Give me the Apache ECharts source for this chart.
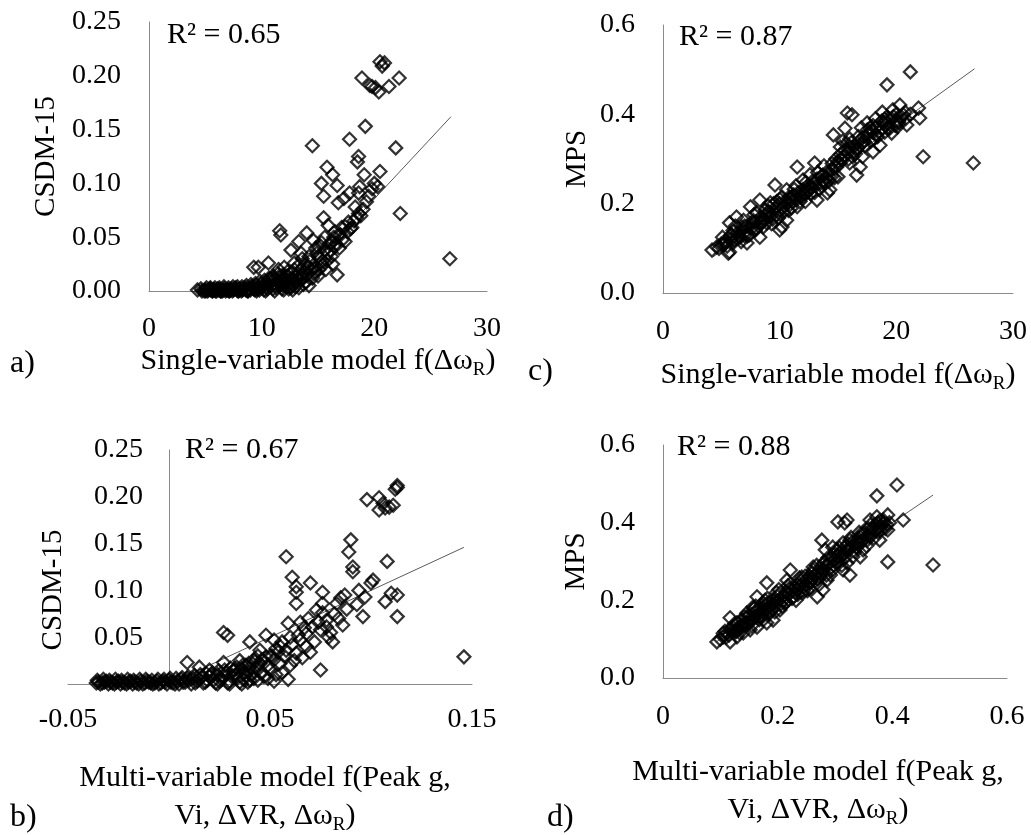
<!DOCTYPE html>
<html>
<head>
<meta charset="utf-8">
<script src="https://cdn.jsdelivr.net/npm/echarts@6/dist/echarts.min.js"></script>
<style>
  html, body { margin: 0; padding: 0; background: #fff; }
  #chart { width: 1031px; height: 835px; }
</style>
</head>
<body>
<div id="chart"></div>
<script>
// ---- data: [model prediction, measured value] ----
const singleCsdm = [
  [4.3,0.001],[4.7,0.000],[4.9,0.000],[5.0,0.001],[5.2,0.000],[5.3,0.001],[5.4,0.002],[5.5,0.001],[5.6,0.000],[5.7,0.001],
  [5.8,0.001],[5.9,0.000],[6.0,0.000],[6.1,0.002],[6.2,0.001],[6.3,0.001],[6.4,0.000],[6.5,0.000],[6.6,0.001],[6.7,0.002],
  [6.8,0.000],[6.9,0.001],[7.0,0.001],[7.1,0.000],[7.2,0.001],[7.3,0.002],[7.4,0.000],[7.5,0.001],[7.6,0.002],[7.7,0.003],
  [7.8,0.001],[7.9,0.000],[8.0,0.001],[8.1,0.002],[8.2,0.000],[8.3,0.001],[8.4,0.002],[8.5,0.003],[8.6,0.001],[8.7,0.001],
  [8.8,0.000],[8.9,0.002],[9.0,0.001],[9.1,0.004],[9.2,0.003],[9.3,0.002],[9.4,0.001],[9.5,0.005],[9.6,0.002],[9.7,0.003],
  [9.8,0.001],[9.9,0.006],[10.0,0.003],[10.1,0.004],[10.2,0.001],[10.3,0.007],[10.4,0.004],[10.5,0.002],[10.6,0.006],[10.7,0.009],
  [10.8,0.012],[10.9,0.005],[11.0,0.002],[11.1,0.011],[11.2,0.006],[11.3,0.003],[11.4,0.008],[11.5,0.013],[11.6,0.009],[11.7,0.006],
  [11.8,0.002],[11.9,0.015],[11.9,0.005],[12.0,0.012],[12.1,0.008],[12.2,0.010],[12.2,0.004],[12.3,0.018],[12.4,0.002],[12.5,0.004],
  [12.6,0.003],[12.7,0.012],[12.8,0.010],[12.8,0.006],[12.9,0.020],[13.0,0.004],[13.1,0.009],[13.2,0.015],[13.3,0.024],[13.4,0.010],
  [13.5,0.014],[13.6,0.012],[13.7,0.006],[13.8,0.018],[13.9,0.025],[14.0,0.015],[14.1,0.022],[14.3,0.028],[14.5,0.012],[14.7,0.022],
  [14.8,0.018],[14.9,0.035],[15.1,0.020],[15.2,0.030],[15.4,0.024],[15.6,0.038],[15.8,0.028],[16.0,0.044],[16.1,0.038],[16.4,0.050],
  [16.6,0.044],[16.8,0.052],[16.9,0.040],[17.0,0.052],[17.2,0.048],[17.4,0.060],[17.6,0.055],[17.9,0.058],[18.2,0.065],[18.4,0.068],
  [18.8,0.070],[19.0,0.076],[19.3,0.083],[19.5,0.088],[19.8,0.095],
  [4.6,0.002],[5.1,0.003],[5.45,0.003],[5.85,0.003],[6.25,0.003],[6.65,0.004],[7.05,0.003],[7.45,0.004],[7.85,0.004],[8.25,0.004],
  [8.65,0.005],[9.05,0.006],[9.45,0.007],[9.85,0.009],[10.25,0.010],[10.65,0.012],[11.05,0.014],[11.45,0.016],[11.85,0.010],[12.25,0.014],
  [12.65,0.017],[13.05,0.013],[5.05,0.000],[5.65,0.000],[6.35,0.000],[7.15,0.000],[7.95,0.000],[8.75,0.000],[9.55,0.000],[10.35,0.000],
  [11.15,0.000],[11.95,0.001],[12.75,0.001],[13.3,0.003],[13.9,0.008],[14.6,0.016],[15.0,0.014],[15.7,0.020],[16.3,0.025],[13.6,0.030],
  [14.8,0.040],[15.3,0.045],
  [9.3,0.022],[9.7,0.022],[10.6,0.026],[11.5,0.020],[12.0,0.022],[12.9,0.026],[13.5,0.020],[14.4,0.020],[15.3,0.026],[16.2,0.032],
  [12.6,0.038],[13.5,0.035],[14.2,0.032],[15.0,0.032],[15.9,0.035],[16.5,0.041],
  [14.0,0.054],[13.3,0.046],[14.6,0.047],[15.0,0.041],[15.6,0.050],[16.2,0.045],[17.4,0.046],
  [15.5,0.068],[15.9,0.061],[16.5,0.055],[17.1,0.059],[17.7,0.064],[18.0,0.059],
  [11.6,0.056],[11.7,0.052],[18.3,0.078],[18.6,0.072],[22.3,0.072],
  [16.8,0.082],[17.3,0.086],[17.8,0.091],[18.7,0.097],[18.6,0.091],
  [20.0,0.100],[20.3,0.097],[19.1,0.108],[20.5,0.111],
  [15.5,0.088],[15.3,0.100],[16.7,0.098],[16.3,0.108],[15.8,0.115],
  [18.6,0.125],[18.5,0.120],[21.9,0.133],[14.5,0.135],[17.8,0.141],[19.2,0.153],
  [19.6,0.191],[19.8,0.190],[20.1,0.189],[20.4,0.185],[21.3,0.190],[22.2,0.198],[18.9,0.198],[20.5,0.213],[20.9,0.212],[20.7,0.209],
  [16.7,0.015],[14.2,0.005],[26.7,0.030]
];

const multiCsdm = [
  [-0.036,0.001],[-0.035,0.002],[-0.034,0.000],[-0.033,0.001],[-0.032,0.002],[-0.031,0.003],[-0.030,0.000],[-0.029,0.002],[-0.028,0.001],[-0.027,0.000],
  [-0.026,0.002],[-0.025,0.003],[-0.024,0.000],[-0.023,0.002],[-0.022,0.001],[-0.021,0.000],[-0.020,0.002],[-0.019,0.003],[-0.018,0.000],[-0.017,0.002],
  [-0.016,0.001],[-0.015,0.000],[-0.014,0.003],[-0.013,0.000],[-0.012,0.001],[-0.011,0.003],[-0.010,0.002],[-0.009,0.001],[-0.008,0.000],[-0.007,0.001],
  [-0.006,0.003],[-0.005,0.000],[-0.004,0.001],[-0.003,0.003],[-0.002,0.002],[-0.001,0.000],[0.000,0.004],[0.001,0.002],[0.002,0.001],[0.003,0.000],
  [0.004,0.003],[0.005,0.000],[0.006,0.005],[0.007,0.002],[0.008,0.002],[0.009,0.006],[0.010,0.004],[0.011,0.000],[0.012,0.006],[0.013,0.001],
  [0.014,0.003],[0.015,0.005],[0.016,0.007],[0.017,0.001],[0.018,0.002],[0.019,0.004],[0.020,0.008],[0.021,0.010],[0.022,0.004],[0.023,0.001],
  [0.024,0.010],[0.025,0.003],[0.026,0.005],[0.027,0.008],[0.028,0.012],[0.029,0.001],[0.030,0.003],[0.031,0.008],[0.032,0.014],[0.033,0.010],
  [0.034,0.007],[0.035,0.002],[0.036,0.016],[0.037,0.005],[0.038,0.009],[0.039,0.013],[0.040,0.018],[0.041,0.010],[0.042,0.006],[0.043,0.016],
  [0.044,0.020],[0.045,0.022],[0.046,0.012],[0.047,0.008],[0.049,0.020],[0.050,0.015],[0.051,0.030],[0.053,0.010],[0.054,0.034],[0.056,0.012],
  [-0.0355,0.004],[-0.0325,0.005],[-0.0295,0.004],[-0.0265,0.005],[-0.0235,0.004],[-0.0205,0.005],[-0.0175,0.004],[-0.0145,0.005],[-0.0115,0.005],[-0.0085,0.004],
  [-0.0055,0.005],[-0.0025,0.005],[0.0005,0.006],[0.0035,0.006],[0.0065,0.007],[0.0095,0.008],[0.0125,0.009],[0.0155,0.010],[0.0185,0.011],[0.0215,0.012],
  [0.0245,0.014],[0.0275,0.015],[0.0305,0.017],[0.0335,0.018],[0.0365,0.020],[0.0395,0.022],[0.0425,0.024],[0.046,0.026],[0.050,0.030],[0.053,0.038],
  [0.056,0.045],[0.060,0.050],[0.024,0.000],[0.030,0.000],[0.036,0.000],[0.039,0.002],[0.044,0.004],[0.049,0.006],[0.052,0.003],
  [0.009,0.023],[0.015,0.018],[0.020,0.015],[0.027,0.023],[0.032,0.015],[0.037,0.012],[0.040,0.004],
  [0.045,0.036],[0.048,0.029],[0.052,0.026],[0.055,0.022],[0.042,0.026],
  [0.048,0.052],[0.052,0.047],[0.055,0.040],[0.058,0.036],[0.061,0.042],[0.065,0.047],[0.068,0.054],[0.071,0.061],[0.075,0.058],[0.078,0.061],
  [0.027,0.055],[0.029,0.052],[0.040,0.045],[0.059,0.065],[0.065,0.066],
  [0.073,0.079],[0.076,0.076],[0.078,0.068],[0.081,0.045],[0.070,0.034],[0.075,0.015],[0.059,0.005],
  [0.057,0.030],[0.060,0.020],[0.062,0.025],[0.063,0.033],[0.064,0.052],[0.066,0.028],[0.067,0.060],[0.068,0.040],[0.069,0.070],[0.072,0.045],
  [0.074,0.066],[0.079,0.050],[0.080,0.055],[0.082,0.075],[0.084,0.070],[0.086,0.063],[0.087,0.095],[0.088,0.080],[0.093,0.085],
  [0.044,0.030],[0.035,0.025],[0.038,0.020],
  [0.063,0.086],[0.076,0.098],[0.076,0.086],[0.085,0.092],[0.083,0.086],
  [0.094,0.100],[0.100,0.108],[0.101,0.111],[0.097,0.093],[0.096,0.072],[0.107,0.088],[0.110,0.097],[0.113,0.095],[0.113,0.072],
  [0.061,0.114],[0.063,0.104],[0.063,0.098],[0.070,0.108],
  [0.091,0.125],[0.091,0.120],[0.108,0.131],[0.058,0.136],[0.089,0.141],[0.090,0.154],
  [0.098,0.197],[0.104,0.199],[0.106,0.193],[0.104,0.186],[0.107,0.188],[0.109,0.189],[0.111,0.191],[0.113,0.210],[0.113,0.212],[0.112,0.208],
  [0.146,0.029]
];

const singleMps = [
  [21.2,0.495],[19.2,0.466],[22.0,0.392],[21.9,0.414],[22.3,0.305],[26.6,0.291],
  [15.8,0.403],[16.2,0.399],[14.6,0.354],[15.6,0.369],[18.0,0.316],[18.6,0.331],[16.6,0.264],[16.9,0.282],
  [18.8,0.405],[19.2,0.394],[19.7,0.410],[20.3,0.421],[20.6,0.399],[20.9,0.376],
  [17.5,0.381],[17.9,0.365],[18.3,0.372],[18.9,0.381],[19.6,0.358],[20.1,0.372],
  [15.2,0.327],[15.8,0.313],[16.2,0.338],[16.6,0.320],[17.1,0.305],[16.0,0.291],[15.4,0.298],
  [11.5,0.282],[13.0,0.291],[13.7,0.264],[14.3,0.231],[14.1,0.224],
  [9.6,0.242],[10.6,0.231],[12.0,0.253],[12.6,0.237],[13.5,0.246],[14.9,0.282],[13.2,0.208],
  [7.5,0.193],[8.3,0.208],[9.2,0.202],[10.0,0.186],[10.9,0.208],[11.5,0.193],[12.0,0.215],[10.6,0.163],[10.0,0.141],[8.3,0.125],[7.2,0.112],
  [5.7,0.157],[6.3,0.170],[6.9,0.163],[7.7,0.157],[8.9,0.157],
  [4.2,0.096],[4.6,0.103],[5.1,0.125],[5.7,0.092],[6.0,0.112],[6.6,0.125],[5.6,0.089],
  [5.0,0.110],[5.4,0.118],[5.9,0.130],[6.4,0.135],[6.8,0.140],[7.2,0.150],[7.6,0.145],[8.0,0.160],[8.4,0.170],[8.8,0.175],
  [9.2,0.180],[9.6,0.190],[10.0,0.200],[10.4,0.195],[10.8,0.215],[11.2,0.220],[11.6,0.225],[12.0,0.232],[12.4,0.240],[12.8,0.250],
  [13.2,0.255],[13.6,0.262],[14.0,0.270],[14.4,0.275],[14.8,0.300],[15.2,0.310],[15.6,0.320],[16.0,0.325],[16.4,0.330],[16.8,0.340],
  [17.2,0.350],[17.6,0.355],[18.0,0.360],[18.4,0.350],[18.8,0.370],[19.2,0.380],[19.6,0.390],[20.0,0.385],[20.4,0.395],
  [7.0,0.128],[8.6,0.148],[9.4,0.165],[11.0,0.190],[12.2,0.205],[13.0,0.225],[14.2,0.250],[15.0,0.260],
  [6.2,0.150],[7.8,0.175],[9.0,0.195],[10.2,0.215],[11.4,0.240],[12.6,0.265],[13.8,0.285],[15.4,0.340],[17.0,0.370],[18.2,0.390],
  [10.2,0.148],
  [4.8,0.100],[5.2,0.108],[5.5,0.105],[5.8,0.120],[6.1,0.118],[6.5,0.128],[6.7,0.115],[7.1,0.138],[7.4,0.130],[7.9,0.140],
  [8.2,0.150],[8.5,0.158],[8.7,0.165],[9.1,0.170],[9.3,0.155],[9.7,0.175],[9.9,0.168],[10.3,0.180],[10.5,0.205],[10.9,0.198],
  [11.1,0.205],[11.3,0.212],[11.8,0.215],[12.3,0.225],[12.7,0.222],[13.1,0.240],[13.4,0.232],[13.9,0.245],[14.5,0.262],[14.7,0.258],
  [15.1,0.290],[15.5,0.305],[15.9,0.300],[16.3,0.315],[16.7,0.325],[17.3,0.330],[17.8,0.340],[18.1,0.345],[18.5,0.360],[19.0,0.360],
  [19.4,0.368],[19.9,0.375],[20.2,0.385],[20.8,0.390],[21.2,0.400],
  [5.25,0.112],[5.75,0.128],[6.25,0.122],[6.75,0.148],[7.25,0.128],[7.75,0.162],[8.25,0.158],[8.75,0.185],[9.25,0.172],[9.75,0.205],
  [10.25,0.190],[10.75,0.185],[11.25,0.232],[11.75,0.205],[12.25,0.248],[12.75,0.235],[13.25,0.270],[13.75,0.250],[14.25,0.262],[14.75,0.285],
  [15.25,0.300],[15.75,0.335],[16.25,0.305],[16.75,0.350],[17.25,0.340],[17.75,0.370],[18.25,0.355],[18.75,0.385],[19.25,0.370],[19.75,0.395],
  [20.25,0.380],[20.75,0.405],[6.0,0.140],[7.0,0.150],[8.0,0.145],[9.0,0.182],[10.0,0.210],[11.0,0.215],[12.0,0.222],[13.0,0.245],
  [14.0,0.258],[15.0,0.295],[16.0,0.345],[17.0,0.335],[18.0,0.375],[19.0,0.390],[20.0,0.400],[8.0,0.180],[9.5,0.200],[11.5,0.210],
  [12.5,0.230],[14.5,0.290],[16.5,0.312],[17.5,0.365]
];

const multiMps = [
  [0.408,0.497],[0.373,0.469],[0.419,0.407],[0.392,0.299],[0.471,0.291],
  [0.305,0.402],[0.317,0.399],[0.321,0.407],[0.277,0.355],[0.326,0.265],
  [0.361,0.407],[0.373,0.415],[0.384,0.407],[0.392,0.420],[0.378,0.389],[0.392,0.381],[0.378,0.355],
  [0.344,0.363],[0.338,0.337],[0.349,0.330],[0.356,0.355],[0.361,0.373],[0.331,0.312],[0.344,0.312],
  [0.283,0.330],[0.296,0.337],[0.309,0.322],[0.314,0.348],[0.326,0.355],[0.303,0.296],[0.321,0.296],[0.296,0.278],[0.314,0.278],
  [0.222,0.278],[0.181,0.245],[0.262,0.286],[0.286,0.252],[0.279,0.227],[0.269,0.209],[0.256,0.245],[0.244,0.219],[0.234,0.227],
  [0.216,0.252],[0.204,0.219],[0.192,0.201],[0.187,0.183],
  [0.164,0.209],[0.174,0.193],[0.157,0.183],[0.146,0.167],[0.169,0.157],[0.181,0.142],[0.192,0.149],[0.204,0.175],[0.164,0.131],
  [0.152,0.124],[0.140,0.131],[0.129,0.142],[0.134,0.116],
  [0.117,0.155],[0.122,0.131],[0.112,0.116],[0.105,0.106],[0.094,0.093],[0.117,0.093],[0.129,0.106],[0.140,0.116],
  [0.100,0.100],[0.110,0.105],[0.120,0.120],[0.130,0.128],[0.140,0.140],[0.150,0.150],[0.160,0.158],[0.170,0.170],[0.180,0.178],
  [0.190,0.190],[0.200,0.198],[0.210,0.210],[0.220,0.218],[0.230,0.232],[0.240,0.238],[0.250,0.252],[0.260,0.258],[0.270,0.272],
  [0.280,0.280],[0.290,0.295],[0.300,0.305],[0.310,0.312],[0.320,0.330],[0.330,0.340],[0.340,0.345],[0.350,0.355],[0.360,0.365],
  [0.370,0.380],[0.380,0.390],[0.390,0.395],
  [0.125,0.140],[0.145,0.155],[0.165,0.175],[0.185,0.165],[0.205,0.190],[0.225,0.205],[0.245,0.235],[0.265,0.250],[0.285,0.265],
  [0.155,0.135],[0.175,0.150],[0.195,0.170],[0.215,0.195],[0.235,0.215],[0.255,0.230],[0.275,0.260],[0.295,0.310],[0.315,0.320],
  [0.335,0.325],[0.355,0.340],[0.375,0.375],[0.385,0.400],
  [0.105,0.115],[0.115,0.110],[0.125,0.118],[0.135,0.132],[0.145,0.142],[0.150,0.160],[0.155,0.150],[0.160,0.170],[0.165,0.160],[0.170,0.180],
  [0.175,0.168],[0.180,0.190],[0.185,0.195],[0.195,0.185],[0.200,0.210],[0.205,0.205],[0.210,0.200],[0.215,0.220],[0.220,0.230],[0.225,0.225],
  [0.230,0.220],[0.235,0.240],[0.240,0.250],[0.245,0.225],[0.250,0.240],[0.255,0.260],[0.260,0.270],[0.265,0.265],[0.270,0.255],[0.275,0.285],
  [0.280,0.295],[0.285,0.290],[0.290,0.280],[0.300,0.320],[0.305,0.315],[0.310,0.300],[0.320,0.340],[0.325,0.330],[0.330,0.350],[0.340,0.360],
  [0.345,0.350],[0.350,0.370],[0.355,0.365],[0.365,0.385],[0.370,0.395],[0.375,0.400],[0.380,0.380],
  [0.108,0.120],[0.118,0.128],[0.128,0.120],[0.138,0.150],[0.148,0.138],[0.158,0.178],[0.168,0.150],[0.178,0.200],[0.188,0.172],[0.198,0.220],
  [0.208,0.185],[0.218,0.238],[0.228,0.210],[0.238,0.258],[0.248,0.262],[0.258,0.248],[0.268,0.290],[0.278,0.270],[0.288,0.310],[0.298,0.290],
  [0.308,0.335],[0.318,0.310],[0.328,0.362],[0.338,0.350],[0.348,0.375],[0.358,0.385],[0.368,0.360],[0.378,0.405],[0.388,0.385],[0.395,0.400],
  [0.132,0.125],[0.142,0.158],[0.152,0.145],[0.162,0.185],[0.172,0.160],[0.182,0.205],[0.192,0.178],[0.202,0.228],[0.212,0.192],[0.222,0.242],
  [0.232,0.200],[0.242,0.260],[0.252,0.225],[0.262,0.278],[0.272,0.240],[0.282,0.300],[0.292,0.265],[0.302,0.330],[0.312,0.290],[0.322,0.345],
  [0.342,0.375],[0.362,0.395]
];

// linear trendline end points [x, y]
const trendSingleCsdm = [[4.3, -0.091], [26.8, 0.162]];
const trendMultiCsdm  = [[-0.036, -0.036], [0.146, 0.146]];
const trendSingleMps  = [[4.3, 0.081], [26.7, 0.502]];
const trendMultiMps   = [[0.094, 0.094], [0.471, 0.471]];

const r2Labels = ['R² = 0.65', 'R² = 0.67', 'R² = 0.87', 'R² = 0.88'];
const panelLetters = ['a)', 'b)', 'c)', 'd)'];
const yNames = ['CSDM-15', 'CSDM-15', 'MPS', 'MPS'];
const xNames = [
  'Single-variable model f(Δω{s|R})',
  'Multi-variable model f(Peak g,\nVi, ΔVR, Δω{s|R})',
  'Single-variable model f(Δω{s|R})',
  'Multi-variable model f(Peak g,\nVi, ΔVR, Δω{s|R})'
];
// axis ranges: [min, max, interval]
const xRanges = [[0, 30, 10], [-0.05, 0.15, 0.1], [0, 30, 10], [0, 0.6, 0.2]];
const yRanges = [[0, 0.25, 0.05], [0, 0.25, 0.05], [0, 0.6, 0.2], [0, 0.6, 0.2]];

const FONT = 'Liberation Serif';
const TICK_FS = 28;
const NAME_FS = 30;
const YNAME_FS = 29;
const AXIS_GREY = '#8a8a8a';

const scatterData = [singleCsdm, multiCsdm, singleMps, multiMps];
const trendData = [trendSingleCsdm, trendMultiCsdm, trendSingleMps, trendMultiMps];

// panel layout (a, b, c, d)
const grids = [
  { left: 149, top: 22,  width: 338, height: 269 },
  { left: 68,  top: 450, width: 404, height: 234 },
  { left: 663, top: 25,  width: 350, height: 268 },
  { left: 663, top: 445, width: 344, height: 233 }
];
// panel b: the value axis sits where x = 0
const yAxisOffset = [0, -101, 0, 0];
const yLabelMargin = [28, 26, 28, 28];
const xLabelMargin = [24, 22, 25, 25];
const xNameGap = [51, 75, 63, 75];
const xNamePad = [[0,0,0,0], [0,10,0,0], [0,0,0,0], [0,34,0,0]];
const yNameGap = [88, 101, 71, 72];
const yNamePad = [[0,0,0,0], [0,46,0,0], [0,0,0,0], [0,0,0,0]];
const r2Pos = [[167, 35], [185, 450], [679, 37], [677, 447]];
const letterPos = [[10, 364], [10, 818], [528, 372], [547, 818]];

const xFormatters = [
  v => String(Math.round(v)),
  v => v.toFixed(2),
  v => String(Math.round(v)),
  v => (Math.abs(v) < 1e-9 ? '0' : v.toFixed(1))
];
const yFormatters = [
  v => v.toFixed(2),
  v => (Math.abs(v) < 1e-9 ? '' : v.toFixed(2)),
  v => v.toFixed(1),
  v => v.toFixed(1)
];

const subRich = { s: { fontFamily: FONT, fontSize: 19, color: '#000', verticalAlign: 'bottom', lineHeight: 19 } };

const option = {
  animation: false,
  backgroundColor: '#fff',
  grid: grids.map(g => Object.assign({ containLabel: false, outerBoundsMode: 'none' }, g)),
  xAxis: grids.map((g, i) => ({
    type: 'value',
    gridIndex: i,
    min: xRanges[i][0], max: xRanges[i][1], interval: xRanges[i][2],
    axisLine: { show: true, onZero: false, lineStyle: { color: AXIS_GREY, width: 1 } },
    axisTick: { show: false },
    splitLine: { show: false },
    axisLabel: {
      fontFamily: FONT, fontSize: TICK_FS, color: '#000', margin: xLabelMargin[i],
      showMinLabel: true, showMaxLabel: true, hideOverlap: false, formatter: xFormatters[i]
    },
    name: xNames[i],
    nameLocation: 'middle',
    nameGap: xNameGap[i],
    nameMoveOverlap: false,
    nameTextStyle: {
      fontFamily: FONT, fontSize: NAME_FS, color: '#000', lineHeight: 38,
      padding: xNamePad[i], rich: subRich
    }
  })),
  yAxis: grids.map((g, i) => ({
    type: 'value',
    gridIndex: i,
    min: yRanges[i][0], max: yRanges[i][1], interval: yRanges[i][2],
    offset: yAxisOffset[i],
    axisLine: { show: true, onZero: false, lineStyle: { color: AXIS_GREY, width: 1 } },
    axisTick: { show: false },
    splitLine: { show: false },
    axisLabel: {
      fontFamily: FONT, fontSize: TICK_FS, color: '#000', margin: yLabelMargin[i],
      showMinLabel: true, showMaxLabel: true, hideOverlap: false, formatter: yFormatters[i]
    },
    name: yNames[i],
    nameLocation: 'middle',
    nameGap: yNameGap[i],
    nameMoveOverlap: false,
    nameTextStyle: { fontFamily: FONT, fontSize: YNAME_FS, color: '#000', padding: yNamePad[i] }
  })),
  series: [
    ...trendData.map((d, i) => ({
      type: 'line',
      xAxisIndex: i, yAxisIndex: i,
      data: d,
      showSymbol: false,
      clip: true,
      silent: true,
      lineStyle: { color: '#5a5a5a', width: 1 },
      z: 1
    })),
    ...scatterData.map((d, i) => ({
      type: 'scatter',
      xAxisIndex: i, yAxisIndex: i,
      data: d,
      symbol: 'diamond',
      symbolSize: [13, 13],
      itemStyle: { color: 'rgba(0,0,0,0)', borderColor: '#000', borderWidth: 2.2 },
      z: 2
    }))
  ],
  graphic: [
    ...r2Labels.map((t, i) => ({
      type: 'text', x: r2Pos[i][0], y: r2Pos[i][1],
      style: { text: t, fontFamily: FONT, fontSize: NAME_FS, fill: '#000', align: 'left', verticalAlign: 'middle' }
    })),
    ...panelLetters.map((t, i) => ({
      type: 'text', x: letterPos[i][0], y: letterPos[i][1],
      style: { text: t, fontFamily: FONT, fontSize: 32, fill: '#000', align: 'left', verticalAlign: 'middle' }
    }))
  ]
};

const chart = echarts.init(document.getElementById('chart'), null, { renderer: 'canvas' });
chart.setOption(option);
</script>
</body>
</html>
